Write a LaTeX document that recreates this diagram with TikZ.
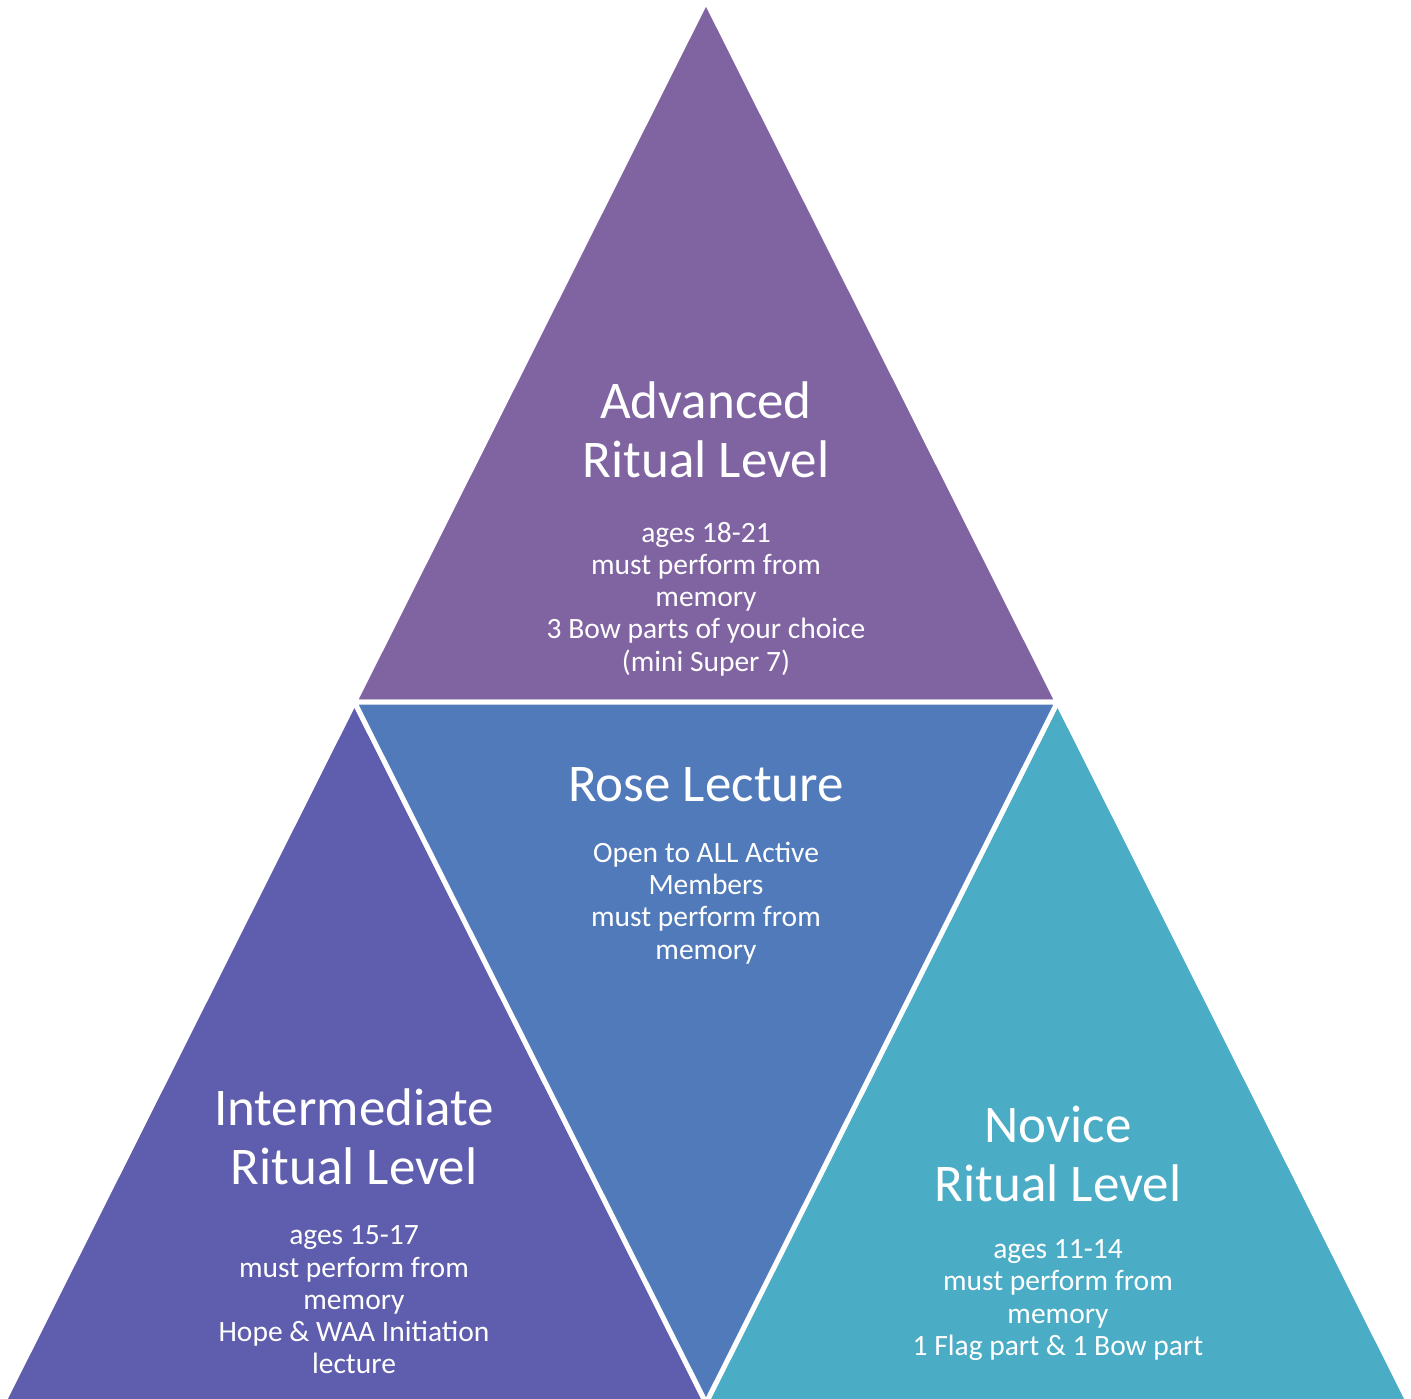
\documentclass[tikz,border=0pt]{standalone}
\usepackage{fontspec}
\setmainfont{Carlito}
\definecolor{cTop}{HTML}{8064A2}
\definecolor{cMid}{HTML}{517ABA}
\definecolor{cLeft}{HTML}{5F5DAD}
\definecolor{cRight}{HTML}{4BACC6}
\begin{document}
\begin{tikzpicture}[x=1pt,y=-1pt,
  tri/.style={draw=white,line width=5pt,line join=miter},
  title/.style={text=white,align=center,font=\fontsize{53}{59.5}\selectfont,inner sep=0pt},
  body/.style={text=white,align=center,font=\fontsize{29.5}{32.2}\selectfont,inner sep=0pt}]
\useasboundingbox (0,0) rectangle (1411,1399);
\coordinate (A) at (706,1);
\coordinate (B) at (3,1403);
\coordinate (C) at (1409,1403);
\coordinate (MAB) at (354.5,702);
\coordinate (MAC) at (1057.5,702);
\coordinate (MBC) at (706,1403);
\fill[cTop,tri] (A) -- (MAC) -- (MAB) -- cycle;
\fill[cLeft,tri] (MAB) -- (MBC) -- (B) -- cycle;
\fill[cRight,tri] (MAC) -- (C) -- (MBC) -- cycle;
\fill[cMid,tri] (MAB) -- (MAC) -- (MBC) -- cycle;
\node[title] (t1) at (706,430) {Advanced\\Ritual Level};
\node[body] (b1) at (706,599) {ages 18-21\\must perform from\\memory\\3 Bow parts of your choice\\(mini Super 7)};
\node[title] (t2) at (706,785) {Rose Lecture};
\node[body] (b2) at (706,903) {Open to ALL Active\\Members\\must perform from\\memory};
\node[title] (t3) at (354,1137) {Intermediate\\Ritual Level};
\node[body] (b3) at (354,1300) {ages 15-17\\must perform from\\memory\\Hope \& WAA Initiation\\lecture};
\node[title] (t4) at (1058,1154) {Novice\\Ritual Level};
\node[body] (b4) at (1058,1300) {ages 11-14\\must perform from\\memory\\1 Flag part \& 1 Bow part};
\end{tikzpicture}
\end{document}
